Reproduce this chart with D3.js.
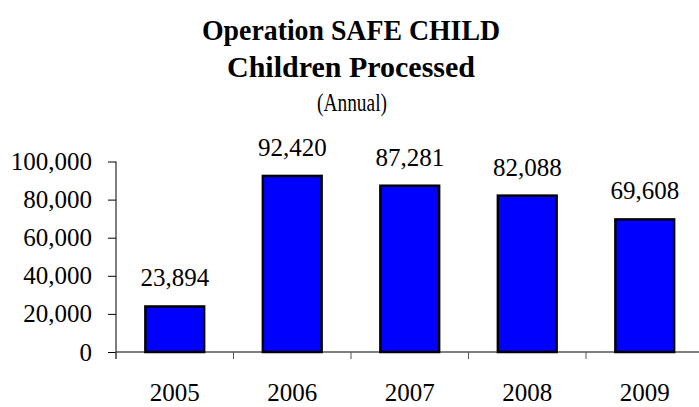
<!DOCTYPE html>
<html>
<head>
<meta charset="utf-8">
<script src="https://cdn.jsdelivr.net/npm/d3@7"></script>
<style>
  html, body { margin: 0; padding: 0; background: #fff; }
  svg { display: block; }
  text { font-family: "Liberation Serif", "Times New Roman", serif; fill: #000; }
</style>
</head>
<body>
<svg id="chart" width="699" height="407"></svg>
<script>
const years = ["2005", "2006", "2007", "2008", "2009"];
const children = [23894, 92420, 87281, 82088, 69608];
const yTicks = [0, 20000, 40000, 60000, 80000, 100000];
const titleLines = ["Operation SAFE CHILD", "Children Processed"];
const subtitle = "(Annual)";

const svg = d3.select("#chart");
const x0 = 116, xEnd = 703.5, yBase = 352, yTop = 161.5;

const x = d3.scaleBand().domain(years).range([x0, xEnd]).paddingInner(0.5).paddingOuter(0.25);
const y = d3.scaleLinear().domain([0, 100000]).range([yBase, yTop]);
const fmt = d3.format(",");
const numSize = "25px";

// titles
svg.append("text").attr("x", 351).attr("y", 40).attr("text-anchor", "middle")
  .attr("textLength", 298).attr("lengthAdjust", "spacingAndGlyphs")
  .style("font-size", "30px").style("font-weight", "bold").text(titleLines[0]);
svg.append("text").attr("x", 351).attr("y", 77).attr("text-anchor", "middle")
  .style("font-size", "30px").style("font-weight", "bold").text(titleLines[1]);
svg.append("text").attr("x", 352).attr("y", 111).attr("text-anchor", "middle")
  .attr("textLength", 70).attr("lengthAdjust", "spacingAndGlyphs")
  .style("font-size", "25px").text(subtitle);

// y axis
const yAxis = d3.axisLeft(y).tickValues(yTicks).tickFormat(fmt).tickSize(8).tickPadding(16);
const gy = svg.append("g").attr("transform", `translate(${x0},0)`).call(yAxis);
gy.select(".domain").remove();
gy.selectAll(".tick line").attr("stroke", "#000").attr("stroke-width", 1);
gy.selectAll(".tick text").style("font-size", numSize).style("font-family", "Liberation Serif, serif");
svg.append("line").attr("x1", x0).attr("x2", x0).attr("y1", y(100000)).attr("y2", yBase + 7)
  .attr("stroke", "#000").attr("stroke-width", 1);

// bars
svg.selectAll("rect.bar").data(years).enter().append("rect")
  .attr("class", "bar")
  .attr("x", d => x(d))
  .attr("width", x.bandwidth())
  .attr("y", (d, i) => y(children[i]))
  .attr("height", (d, i) => yBase - y(children[i]))
  .attr("fill", "#0000ff").attr("stroke", "#000").attr("stroke-width", 2.5);

// x axis baseline and category separators
svg.append("line").attr("x1", x0).attr("x2", 699).attr("y1", yBase).attr("y2", yBase)
  .attr("stroke", "#000").attr("stroke-width", 1);
const step = x.step();
const seps = years.map(d => x(d) + x.bandwidth() / 2 - step / 2)
  .concat([x(years[years.length - 1]) + x.bandwidth() / 2 + step / 2]);
svg.selectAll("line.sep").data(seps)
  .enter().append("line").attr("class", "sep")
  .attr("x1", d => d).attr("x2", d => d).attr("y1", yBase).attr("y2", yBase + 7)
  .attr("stroke", "#555").attr("stroke-width", 1);

// x labels
svg.selectAll("text.xl").data(years).enter().append("text").attr("class", "xl")
  .attr("x", d => x(d) + x.bandwidth() / 2).attr("y", 401)
  .attr("text-anchor", "middle").style("font-size", numSize).text(d => d);

// value labels
svg.selectAll("text.vl").data(years).enter().append("text").attr("class", "vl")
  .attr("x", d => x(d) + x.bandwidth() / 2)
  .attr("y", (d, i) => y(children[i]) - 20)
  .attr("text-anchor", "middle").style("font-size", numSize).text((d, i) => fmt(children[i]));
</script>
</body>
</html>
